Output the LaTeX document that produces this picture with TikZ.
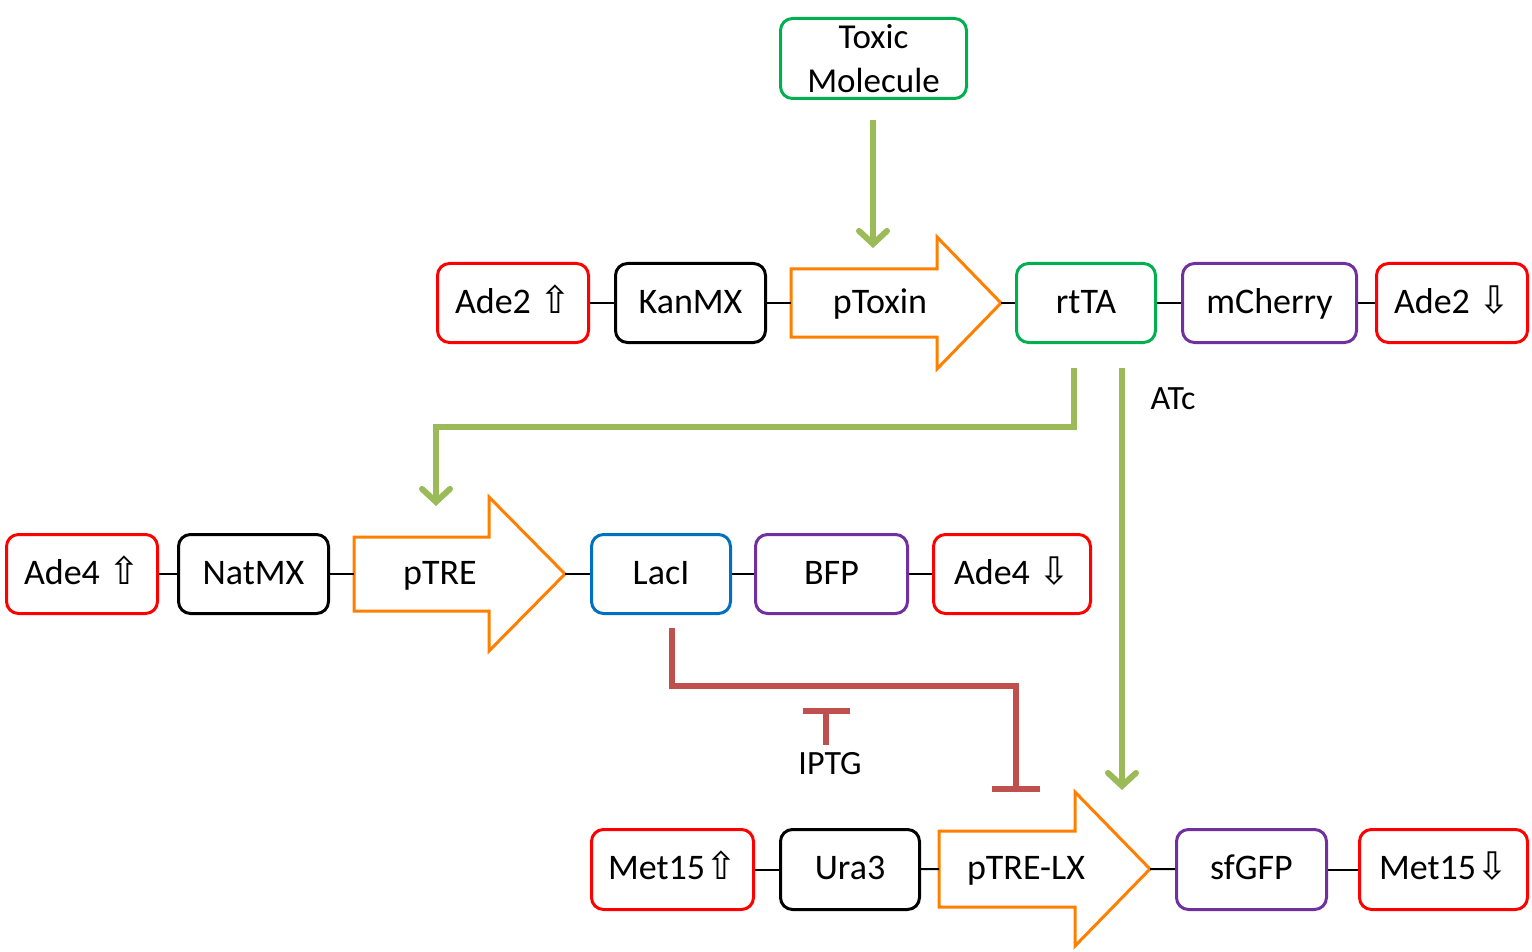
\documentclass[tikz,border=0pt]{standalone}
\usepackage{fontspec}
\setmainfont{Carlito}
\newfontfamily\arrfont{DejaVu Sans}
\usetikzlibrary{arrows.meta}
\newcommand{\upar}{{\arrfont\fontsize{38}{38}\selectfont ⇧}}
\newcommand{\dnar}{{\arrfont\fontsize{38}{38}\selectfont ⇩}}
\definecolor{cRed}{HTML}{FF0000}
\definecolor{cGreen}{HTML}{00B050}
\definecolor{cPurple}{HTML}{7030A0}
\definecolor{cBlue}{HTML}{0070C0}
\definecolor{cOrange}{HTML}{FF8000}
\definecolor{cLeaf}{HTML}{9BBB59}
\definecolor{cBrick}{HTML}{C0504D}
\begin{document}
\begin{tikzpicture}[x=1pt,y=-1pt,
  every node/.style={font=\fontsize{36}{42}\selectfont, inner sep=0pt, text height=27pt, text depth=7pt},
  box/.style={draw, rounded corners=12pt, line width=3pt, minimum height=79pt, align=center},
  redbox/.style={box, draw=cRed},
  blackbox/.style={box, draw=black},
  greenbox/.style={box, draw=cGreen},
  purplebox/.style={box, draw=cPurple},
  bluebox/.style={box, draw=cBlue},
  barrow/.style={draw=cOrange, line width=3pt, line join=miter, fill=white},
  link/.style={draw=black, line width=2pt},
  activ/.style={draw=cLeaf, line width=6pt, -{Straight Barb[length=13pt,width=28pt,line cap=round]}},
  repress/.style={draw=cBrick, line width=6pt, -{Bar[width=48pt]}},
  redline/.style={draw=cBrick, line width=6pt},
  plain/.style={font=\fontsize{34}{42}\selectfont}
]
\useasboundingbox (0,0) rectangle (1532,952);

% ---------------- Row 1
\node[redbox, minimum width=151pt] (ade2u) at (513,303) {Ade2 \upar};
\node[blackbox, minimum width=150pt] (kanmx) at (690.5,303) {KanMX};
\draw[barrow] (791,269) -- (937,269) -- (937,237) -- (1001,303) -- (937,369) -- (937,337) -- (791,337) -- cycle;
\coordinate (ptoxL) at (791,303);
\coordinate (ptoxR) at (1001,303);
\node (ptoxin) at (880,303) {pToxin};
\node[greenbox, minimum width=139pt] (rtta) at (1086,303) {rtTA};
\node[purplebox, minimum width=174pt] (mcherry) at (1269.5,303) {mCherry};
\node[redbox, minimum width=151pt] (ade2d) at (1452,303) {Ade2 \dnar};

\draw[link] (ade2u) -- (kanmx);
\draw[link] (kanmx) -- (ptoxL);
\draw[link] (ptoxR) -- (rtta);
\draw[link] (rtta) -- (mcherry);
\draw[link] (mcherry) -- (ade2d);

% Toxic molecule
\node[greenbox, minimum width=186pt, minimum height=80pt, text height=, text depth=, font=\fontsize{35}{44}\selectfont] (toxic) at (873.5,58.5) {Toxic\\Molecule};
\coordinate (toxS) at (873,120);
\coordinate (toxE) at (873,248);
\draw[activ] (toxS) -- (toxE);

% ---------------- Row 2
\node[redbox, minimum width=151pt] (ade4u) at (82,574) {Ade4 \upar};
\node[blackbox, minimum width=150pt] (natmx) at (253.5,574) {NatMX};
\draw[barrow] (354,537) -- (489,537) -- (489,497) -- (565,574) -- (489,651) -- (489,611) -- (354,611) -- cycle;
\coordinate (ptreL) at (354,574);
\coordinate (ptreR) at (565,574);
\node (ptre) at (440,574) {pTRE};
\node[bluebox, minimum width=139pt] (laci) at (661,574) {LacI};
\node[purplebox, minimum width=152pt] (bfp) at (831.5,574) {BFP};
\node[redbox, minimum width=157pt] (ade4d) at (1012,574) {Ade4 \dnar};

\draw[link] (ade4u) -- (natmx);
\draw[link] (natmx) -- (ptreL);
\draw[link] (ptreR) -- (laci);
\draw[link] (laci) -- (bfp);
\draw[link] (bfp) -- (ade4d);

% ---------------- Row 3
\node[redbox, minimum width=162pt, minimum height=80pt] (met15u) at (672.5,869.5) {Met15\upar};
\node[blackbox, minimum width=139pt, minimum height=80pt] (ura3) at (850,869.5) {Ura3};
\draw[barrow] (939,831) -- (1075,831) -- (1075,792) -- (1150,869) -- (1075,946) -- (1075,907) -- (939,907) -- cycle;
\coordinate (plxL) at (939,869);
\coordinate (plxR) at (1150,869);
\node (ptrelx) at (1026,869) {pTRE-LX};
\node[purplebox, minimum width=150pt, minimum height=80pt] (sfgfp) at (1251.5,869.5) {sfGFP};
\node[redbox, minimum width=168pt, minimum height=80pt] (met15d) at (1443.5,869.5) {Met15\dnar};

\draw[link] (met15u) -- (ura3);
\draw[link] (ura3) -- (plxL);
\draw[link] (plxR) -- (sfgfp);
\draw[link] (sfgfp) -- (met15d);

% ---------------- Regulation
\coordinate (rtS1) at (1074,368);
\coordinate (ptreTip) at (436,506);
\draw[activ] (rtS1) -- (1074,427) -| (ptreTip);

\coordinate (rtS2) at (1122,368);
\coordinate (lxTip) at (1122,790);
\draw[activ] (rtS2) -- (lxTip);
\node[plain] (atc) at (1173,399) {ATc};

\coordinate (laciS) at (672,628);
\coordinate (lxBar) at (1016,792);
\draw[repress] (laciS) -- (672,686) -| (lxBar);

\coordinate (iptgTop) at (826,711);
\coordinate (iptgBot) at (826,745);
\draw[redline] (803,711) -- (850,711);
\draw[redline] (iptgTop) -- (iptgBot);
\node[plain] (iptg) at (830,764) {IPTG};
\end{tikzpicture}
\end{document}
